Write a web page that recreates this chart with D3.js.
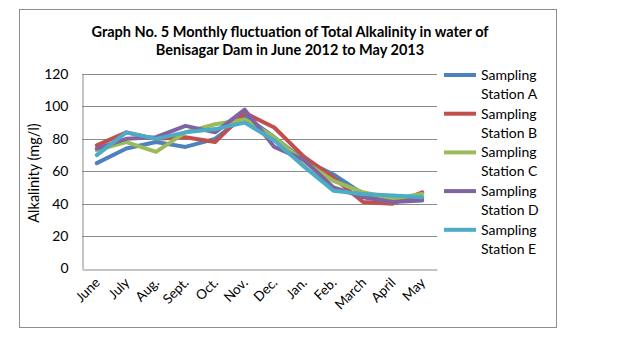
<!DOCTYPE html>
<html>
<head>
<meta charset="utf-8">
<script src="https://cdn.jsdelivr.net/npm/d3@7"></script>
<style>
  html, body { margin: 0; padding: 0; background: #fff; }
  svg text { font-family: "Lato", "Open Sans", sans-serif; fill: #000; }
</style>
</head>
<body>
<div id="chart"></div>
<script>
// monthly total alkalinity (mg/l), June 2012 - May 2013
const months = ["June", "July", "Aug.", "Sept.", "Oct.", "Nov.", "Dec.", "Jan.", "Feb.", "March", "April", "May"];
const stationA = [65, 74, 78, 75, 80, 94, 81, 67, 58, 46, 43, 43];
const stationB = [76, 84, 80, 81, 78, 96, 87, 69, 56, 41, 40, 47];
const stationC = [73, 78, 72, 84, 89, 92, 81, 66, 54, 47, 43, 46];
const stationD = [74, 80, 81, 88, 84, 98, 75, 67, 50, 44, 41, 42];
const stationE = [70, 84, 80, 84, 86, 90, 79, 63, 48, 46, 45, 44];
const stationNames = ["Station A", "Station B", "Station C", "Station D", "Station E"];
const yTicks = [0, 20, 40, 60, 80, 100, 120];

const colors = ["#4f81bd", "#c0504d", "#9bbb59", "#8064a2", "#4bacc6"];
const series = [stationA, stationB, stationC, stationD, stationE];

const width = 621, height = 337;
const plot = {left: 82, right: 437, top: 74, bottom: 268.5};

const svg = d3.select("#chart").append("svg")
    .attr("width", width)
    .attr("height", height);

// outer chart border
svg.append("rect")
    .attr("x", 19.5).attr("y", 9.5)
    .attr("width", 537).attr("height", 318)
    .attr("fill", "#fff")
    .attr("stroke", "#8e8e8e")
    .attr("stroke-width", 1);

const x = d3.scaleBand().domain(months).range([plot.left, plot.right]);
const y = d3.scaleLinear().domain([0, 120]).range([plot.bottom, plot.top]);

// title
const title = svg.append("text")
    .attr("text-anchor", "middle")
    .style("font-weight", "bold")
    .style("font-size", "14.5px");
title.append("tspan").attr("x", 290).attr("y", 37)
    .text("Graph No. 5 Monthly fluctuation of Total Alkalinity in water of");
title.append("tspan").attr("x", 290).attr("y", 55)
    .text("Benisagar  Dam in June 2012 to May 2013");

// gridlines
svg.append("g")
    .selectAll("line")
    .data(yTicks.slice(1))
    .join("line")
    .attr("x1", plot.left).attr("x2", plot.right)
    .attr("y1", d => Math.round(y(d)) + 0.5)
    .attr("y2", d => Math.round(y(d)) + 0.5)
    .attr("stroke", "#8a8a8a");

// y axis
const yAxis = svg.append("g")
    .attr("transform", `translate(${plot.left + 0.5},0)`)
    .call(d3.axisLeft(y).tickValues(yTicks).tickSize(0).tickPadding(14));
yAxis.select(".domain").attr("stroke", "#8a8a8a");
yAxis.selectAll("text").style("font-size", "14px").style("font-family", "Lato, sans-serif");

svg.append("text")
    .attr("transform", "translate(39,173) rotate(-90)")
    .attr("text-anchor", "middle")
    .style("font-size", "14.5px")
    .text("Alkalinity  (mg/l)");

// x axis
const xAxis = svg.append("g")
    .attr("transform", `translate(0,${Math.round(plot.bottom) + 0.5})`)
    .call(d3.axisBottom(x).tickSize(0).tickPadding(0));
xAxis.select(".domain").attr("stroke", "#8a8a8a");
xAxis.selectAll("text")
    .style("font-size", "13.5px")
    .style("font-family", "Lato, sans-serif")
    .attr("text-anchor", "end")
    .attr("dy", null)
    .attr("transform", "translate(4,14) rotate(-45)");

// station lines
const line = d3.line()
    .x((d, i) => x(months[i]) + x.bandwidth() / 2)
    .y(d => y(d));

svg.append("g")
    .selectAll("path")
    .data(series)
    .join("path")
    .attr("d", line)
    .attr("fill", "none")
    .attr("stroke", (d, i) => colors[i])
    .attr("stroke-width", 4)
    .attr("stroke-linejoin", "round")
    .attr("stroke-linecap", "round");

// legend
const legend = svg.append("g")
    .selectAll("g")
    .data(stationNames)
    .join("g")
    .attr("transform", (d, i) => `translate(444,${75 + i * 38.7})`);

legend.append("line")
    .attr("x1", 0).attr("x2", 32)
    .attr("stroke", (d, i) => colors[i])
    .attr("stroke-width", 4);

legend.append("text")
    .attr("x", 37)
    .style("font-size", "14px")
    .call(t => t.append("tspan").attr("x", 37).attr("y", 5).text("Sampling"))
    .call(t => t.append("tspan").attr("x", 37).attr("y", 24).text(d => d));
</script>
</body>
</html>
